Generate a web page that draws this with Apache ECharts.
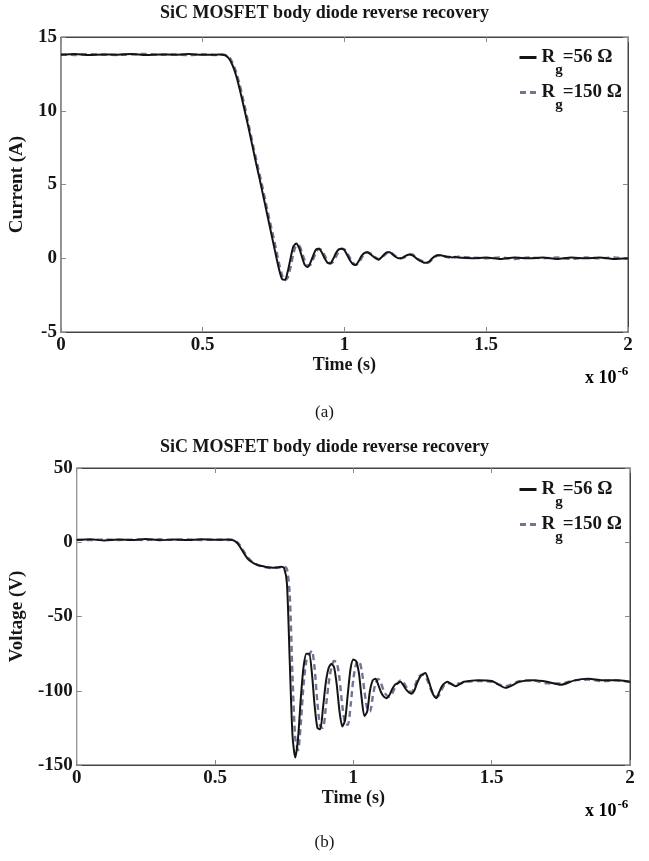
<!DOCTYPE html>
<html>
<head>
<meta charset="utf-8">
<script src="https://cdn.jsdelivr.net/npm/echarts@6/dist/echarts.min.js"></script>
<style>
html,body{margin:0;padding:0;background:#fff;}
#chart{width:649px;height:861px;}
</style>
</head>
<body>
<div id="chart"></div>
<script>
// Time in units of 1e-6 s
var timeUs = [
  0, 0.05, 0.1, 0.15, 0.2, 0.25, 0.3, 0.35, 0.4, 0.45, 0.5,
  0.55, 0.56, 0.57, 0.58, 0.59, 0.60, 0.61, 0.62, 0.63, 0.64,
  0.65, 0.66, 0.67, 0.68, 0.69, 0.70, 0.71, 0.72, 0.73, 0.74,
  0.75, 0.76, 0.77, 0.78, 0.79, 0.80, 0.81, 0.82, 0.83, 0.84,
  0.85, 0.86, 0.87, 0.88, 0.89, 0.90, 0.91, 0.92, 0.93, 0.94,
  0.95, 0.96, 0.97, 0.98, 0.99, 1.00, 1.01, 1.02, 1.03, 1.04,
  1.05, 1.06, 1.07, 1.08, 1.09, 1.10, 1.11, 1.12, 1.13, 1.14,
  1.15, 1.16, 1.17, 1.18, 1.19, 1.20, 1.21, 1.22, 1.23, 1.24,
  1.25, 1.26, 1.27, 1.28, 1.29, 1.30, 1.31, 1.32, 1.33, 1.34,
  1.35, 1.36, 1.37, 1.38, 1.39, 1.40,
  1.45, 1.5, 1.55, 1.6, 1.65, 1.7, 1.75, 1.8, 1.85, 1.9, 1.95, 2.0
];

// Current (A), Rg = 56 ohm
var currentRg56 = [
  13.8, 13.85, 13.78, 13.82, 13.8, 13.85, 13.78, 13.82, 13.8, 13.84, 13.8,
  13.8, 13.82, 13.8, 13.75, 13.6, 13.3, 12.85, 12.25, 11.5, 10.7,
  9.85, 9.0, 8.1, 7.2, 6.3, 5.45, 4.55, 3.65, 2.75, 1.85,
  0.95, 0.05, -0.8, -1.4, -1.45, -0.9, 0.0, 0.8, 1.0, 0.7,
  0.1, -0.45, -0.6, -0.3, 0.2, 0.6, 0.65, 0.4, 0.0, -0.3,
  -0.35, -0.05, 0.35, 0.6, 0.65, 0.55, 0.2, -0.15, -0.4, -0.45,
  -0.2, 0.15, 0.35, 0.4, 0.3, 0.15, 0.0, -0.1, 0.05, 0.25,
  0.4, 0.4, 0.25, 0.1, 0.0, 0.0, 0.1, 0.2, 0.25, 0.2,
  0.05, -0.1, -0.2, -0.3, -0.3, -0.2, 0.0, 0.15, 0.2, 0.2,
  0.15, 0.1, 0.1, 0.05, 0.1, 0.05,
  0.0, 0.05, -0.05, 0.05, 0.0, 0.05, -0.05, 0.05, 0.0, 0.05, -0.05, 0.0
];

// Current (A), Rg = 150 ohm
var currentRg150 = [
  13.82, 13.78, 13.84, 13.8, 13.78, 13.82, 13.85, 13.8, 13.82, 13.78, 13.82,
  13.78, 13.8, 13.82, 13.78, 13.7, 13.45, 13.05, 12.5, 11.8, 11.0,
  10.15, 9.25, 8.35, 7.45, 6.6, 5.75, 4.9, 4.0, 3.1, 2.25,
  1.4, 0.5, -0.4, -1.15, -1.5, -1.3, -0.6, 0.3, 0.85, 0.85,
  0.4, -0.15, -0.5, -0.45, -0.05, 0.4, 0.65, 0.55, 0.2, -0.15,
  -0.35, -0.25, 0.1, 0.45, 0.65, 0.6, 0.35, 0.0, -0.3, -0.45,
  -0.35, 0.0, 0.3, 0.4, 0.35, 0.2, 0.05, -0.05, 0.0, 0.2,
  0.35, 0.4, 0.3, 0.15, 0.05, 0.0, 0.05, 0.15, 0.25, 0.25,
  0.1, -0.05, -0.15, -0.25, -0.3, -0.25, -0.05, 0.1, 0.2, 0.2,
  0.15, 0.1, 0.05, 0.1, 0.05, 0.1,
  0.05, 0.0, 0.05, -0.05, 0.05, 0.0, 0.05, -0.05, 0.05, 0.0, 0.05, -0.05
];

// Voltage (V), Rg = 56 ohm
var voltageRg56 = [
  1.5, 2.0, 1.2, 1.8, 1.5, 2.2, 1.4, 1.8, 1.5, 2.0, 1.6,
  1.8, 1.5, 1.0, -0.5, -3, -6, -9, -11.5, -13, -14.2,
  -15, -15.6, -16, -16.5, -16.8, -17, -17.2, -17, -16.8, -16.5,
  -17.5, -28, -80, -130, -145, -132, -105, -84, -75, -75,
  -88, -110, -125, -126, -112, -95, -85, -82, -84, -96,
  -114, -124, -120, -102, -85, -79, -80, -88, -105, -117,
  -114, -100, -93, -92, -96, -101, -104, -105, -103, -99,
  -96, -95, -94, -96, -99, -101, -102, -100, -95, -91,
  -89, -88, -92, -98, -103, -105, -101, -97, -95, -94,
  -95, -96, -97, -96, -95, -94,
  -93, -93.5, -98, -94, -93, -94, -96, -93, -92, -93, -93, -94
];

// Voltage (V), Rg = 150 ohm
var voltageRg150 = [
  1.8, 1.4, 2.0, 1.5, 1.8, 1.5, 2.0, 1.6, 1.9, 1.5, 1.8,
  1.5, 1.8, 1.2, 0.0, -2, -5, -8, -10.5, -12.5, -14,
  -15, -15.8, -16.3, -16.8, -17, -17.3, -17.5, -17.2, -17, -16.8,
  -16.5, -18, -35, -90, -132, -140, -122, -96, -80, -76,
  -73, -85, -108, -124, -125, -112, -96, -85, -80, -81,
  -92, -110, -122, -123, -110, -92, -82, -80, -86, -100,
  -112, -114, -104, -95, -92, -95, -100, -103, -104, -102,
  -98, -95, -93, -94, -97, -100, -101, -98, -93, -90,
  -89, -90, -94, -99, -103, -104, -103, -99, -96, -95,
  -95, -96, -96, -95, -95, -94,
  -93.5, -94, -97, -93.5, -93, -95, -95, -93, -92.5, -93.5, -93, -94
];

var seriesNames = ['Rg=56 Ω', 'Rg=150 Ω'];
var chartTitle = 'SiC MOSFET body diode reverse recovery';
var xTicks = { min: 0, max: 2, interval: 0.5 };
var currentTicks = { min: -5, max: 15, interval: 5 };
var voltageTicks = { min: -150, max: 50, interval: 50 };

function zip(xs, ys) {
  var out = [];
  for (var i = 0; i < xs.length; i++) out.push([xs[i], ys[i]]);
  return out;
}

var SERIF = '"Liberation Serif", "DejaVu Serif", serif';
var TXT = '#161616';
var SOLID = '#141414';
var DASH = '#707594';

var chart = echarts.init(document.getElementById('chart'), null, { renderer: 'canvas' });

function xAxisCfg(gi, pos, showLabel) {
  return {
    type: 'value', gridIndex: gi, position: pos,
    min: xTicks.min, max: xTicks.max, interval: xTicks.interval,
    name: showLabel ? 'Time (s)' : '',
    nameLocation: 'middle', nameGap: 24,
    nameTextStyle: { fontFamily: SERIF, fontWeight: 'bold', fontSize: 18, color: TXT },
    axisLine: { show: true, onZero: false, lineStyle: { color: '#444', width: 1 } },
    axisTick: { show: true, inside: true, length: 5, lineStyle: { color: '#888' } },
    axisLabel: { show: showLabel, fontFamily: SERIF, fontWeight: 'bold', fontSize: 19, color: TXT, margin: 4 },
    splitLine: { show: false }
  };
}
function yAxisCfg(gi, pos, ticks, name, gap, showLabel) {
  return {
    type: 'value', gridIndex: gi, position: pos,
    min: ticks.min, max: ticks.max, interval: ticks.interval,
    name: showLabel ? name : '',
    nameLocation: 'middle', nameGap: gap,
    nameTextStyle: { fontFamily: SERIF, fontWeight: 'bold', fontSize: 19, color: TXT },
    axisLine: { show: true, onZero: false, lineStyle: { color: showLabel ? '#999' : '#444', width: 1 } },
    axisTick: { show: true, inside: true, length: 5, lineStyle: { color: '#888' } },
    axisLabel: { show: showLabel, fontFamily: SERIF, fontWeight: 'bold', fontSize: 19, color: TXT, margin: 4 },
    splitLine: { show: false }
  };
}

var legendRich = {
  r: { fontFamily: SERIF, fontWeight: 'bold', fontSize: 19, color: TXT },
  s: { fontFamily: SERIF, fontWeight: 'bold', fontSize: 15, color: TXT, padding: [26, 0, 0, 0] }
};
function legendFormatter(name) {
  var rest = name.replace('Rg', '');
  return '{r|R}{s|g}{r|' + rest + '}';
}
var SOLID_ICON = 'path://M0,0h17v3h-17z';
var DASH_ICON = 'path://M0,0h6v3h-6z M10,0h6v3h-6z';
function legendCfg(top) {
  return {
    data: [
      { name: seriesNames[0], icon: SOLID_ICON },
      { name: seriesNames[1], icon: DASH_ICON }
    ],
    orient: 'vertical', right: 22, top: top,
    itemWidth: 17, itemHeight: 3, itemGap: 5,
    formatter: legendFormatter,
    textStyle: { rich: legendRich },
    selectedMode: false
  };
}

function lineSeries(name, gi, xs, ys, color, dashed) {
  return {
    type: 'line', name: name, xAxisIndex: gi * 2, yAxisIndex: gi * 2,
    data: zip(xs, ys), showSymbol: false, symbol: 'none', smooth: 0.25,
    lineStyle: { color: color, width: dashed ? 2.4 : 2, type: dashed ? [6, 4] : 'solid' },
    itemStyle: { color: color },
    z: dashed ? 3 : 4, animation: false
  };
}

function xExp(top) {
  return {
    type: 'text', left: 585, top: top,
    style: {
      text: '{a|x 10}{b|-6}',
      rich: {
        a: { fontFamily: SERIF, fontWeight: 'bold', fontSize: 18, color: TXT },
        b: { fontFamily: SERIF, fontWeight: 'bold', fontSize: 13, color: TXT, padding: [0, 0, 14, 1] }
      }
    }
  };
}

var option = {
  backgroundColor: '#fff',
  animation: false,
  title: [
    { text: chartTitle, left: 'center', top: -1, textStyle: { fontFamily: SERIF, fontWeight: 'bold', fontSize: 18, color: TXT } },
    { text: chartTitle, left: 'center', top: 433, textStyle: { fontFamily: SERIF, fontWeight: 'bold', fontSize: 18, color: TXT } }
  ],
  grid: [
    { left: 55, top: 37, right: 21, height: 295, show: true, borderColor: '#444', borderWidth: 1 },
    { left: 70, top: 468, right: 19, height: 297, show: true, borderColor: '#444', borderWidth: 1 }
  ],
  legend: [legendCfg(43), legendCfg(475)],
  xAxis: [xAxisCfg(0, 'bottom', true), xAxisCfg(0, 'top', false), xAxisCfg(1, 'bottom', true), xAxisCfg(1, 'top', false)],
  yAxis: [
    yAxisCfg(0, 'left', currentTicks, 'Current (A)', 22, true), yAxisCfg(0, 'right', currentTicks, '', 0, false),
    yAxisCfg(1, 'left', voltageTicks, 'Voltage (V)', 39, true), yAxisCfg(1, 'right', voltageTicks, '', 0, false)
  ],
  series: [
    lineSeries(seriesNames[1], 0, timeUs, currentRg150, DASH, true),
    lineSeries(seriesNames[0], 0, timeUs, currentRg56, SOLID, false),
    lineSeries(seriesNames[1], 1, timeUs, voltageRg150, DASH, true),
    lineSeries(seriesNames[0], 1, timeUs, voltageRg56, SOLID, false)
  ],
  graphic: [
    xExp(365),
    xExp(798),
    { type: 'text', left: 'center', top: 404, style: { text: '(a)', fontFamily: SERIF, fontSize: 17, fill: TXT } },
    { type: 'text', left: 'center', top: 834, style: { text: '(b)', fontFamily: SERIF, fontSize: 17, fill: TXT } }
  ]
};
chart.setOption(option);
</script>
</body>
</html>
